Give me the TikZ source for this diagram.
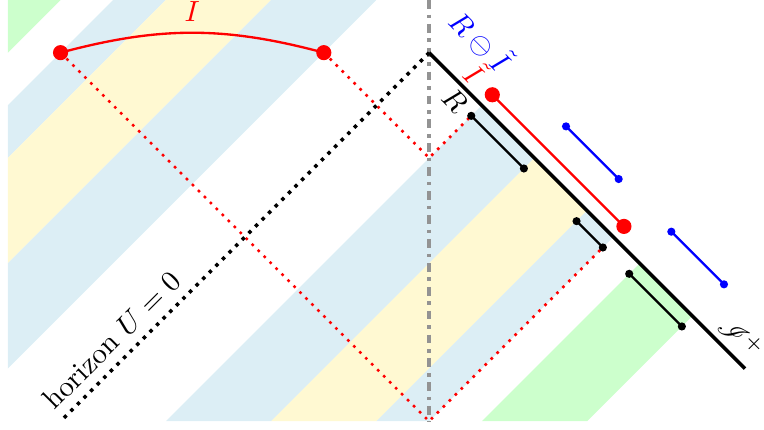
\documentclass[tikz,border=0pt]{standalone}
\usepackage{amsmath,amssymb}
\usepackage{mathrsfs}
\usepackage{tikz}
\definecolor{bandblue}{RGB}{220,238,245}
\definecolor{bandyellow}{RGB}{255,249,210}
\definecolor{bandgreen}{RGB}{204,255,204}

\begin{document}
\begin{tikzpicture}[x=0.635cm, y=0.635cm,
  rseg/.style={black, thick},
  iseg/.style={red, thick},
  dseg/.style={blue, thick},
  ray/.style={red, dotted, line width=0.9pt}]
\useasboundingbox (-8.15,-7.15) rectangle (6.36,1);
\begin{scope}
\clip (-8,1) -- (-1,1) -- (7,-7) -- (-8,-7) -- cycle;
\foreach \a/\b/\c in {-10/-8/bandgreen,-7/-6/bandblue,-6/-4/bandyellow,-4/-2/bandblue,2/4/bandblue,4/6/bandyellow,6/7/bandblue,8/10/bandgreen}
  \fill[\c] (\a-10,-10) -- (\a+2,2) -- (\b+2,2) -- (\b-10,-10) -- cycle;
\end{scope}
\coordinate (O) at (0,0);
\coordinate (top) at (0,1);
\coordinate (bot) at (0,-7);
\coordinate (mid) at (0,-2);
\coordinate (scri) at (6,-6);
\coordinate (hor) at (-7,-7);
\coordinate (Ia) at (-7,0);
\coordinate (Ib) at (-2,0);
\coordinate (Ja) at (1.2,-0.8);
\coordinate (Jb) at (3.7,-3.3);
\foreach \s/\e [count=\i] in {1/2,3/3.5,4/5}{
  \coordinate (Ra\i) at ({\s-0.2},{-\s-0.2});
  \coordinate (Rb\i) at ({\e-0.2},{-\e-0.2});
}
\foreach \s/\e [count=\i] in {2/3,4/5}{
  \coordinate (Da\i) at ({\s+0.6},{-\s+0.6});
  \coordinate (Db\i) at ({\e+0.6},{-\e+0.6});
}
\draw[gray!85, very thick, dash dot] (top) -- (bot);
\draw[ray] (Ia) -- (bot) -- (Rb2);
\draw[ray] (Ib) -- (mid) -- (Ra1);
\draw[very thick, dotted] (O) -- (hor);
\node[rotate=45] (horlab) at (-6.03,-5.46) {horizon $U=0$};
\draw[very thick] (O) -- (scri);
\node[rotate=-45] (scrilab) at (5.93,-5.40) {$\mathscr{I}^+$};
\draw[red, thick] (Ia) to[bend left=15] node[above] (Ilab) {$I$} (Ib);
\fill[red] (Ia) circle (2.6pt) (Ib) circle (2.6pt);
\foreach \i in {1,2,3}
  {\draw[rseg] (Ra\i) -- (Rb\i); \fill (Ra\i) circle (1.4pt) (Rb\i) circle (1.4pt);}
\draw[iseg] (Ja) -- (Jb);
\fill[red] (Ja) circle (2.6pt) (Jb) circle (2.6pt);
\foreach \i in {1,2}
  {\draw[dseg] (Da\i) -- (Db\i); \fill[blue] (Da\i) circle (1.4pt) (Db\i) circle (1.4pt);}
\node[blue, rotate=-45] (dlab) at (0.99,0.23) {$R\ominus\tilde{I}$};
\node[red, rotate=-45] (ilab) at (0.89,-0.38) {$\tilde{I}$};
\node[rotate=-45] (rlab) at (0.49,-0.91) {$R$};
\end{tikzpicture}
\end{document}
